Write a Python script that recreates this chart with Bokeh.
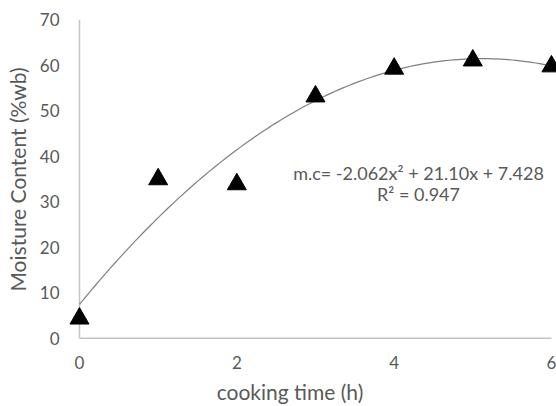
from bokeh.plotting import figure
from bokeh.models import Range1d, Label, FixedTicker
from bokeh.embed import file_html
from bokeh.resources import INLINE
import numpy as np

# data
cooking_time = [0, 1, 2, 3, 4, 5, 6]
moisture = [4.3, 34.9, 33.8, 53.1, 59.2, 61.0, 59.7]
# polynomial trendline coefficients shown on the chart (a*x^2 + b*x + c)
trend_coef = [-2.062, 21.10, 7.428]
x_ticks = [0, 2, 4, 6]
y_ticks = [0, 10, 20, 30, 40, 50, 60, 70]
eq_text = "m.c= -2.062x\u00b2 + 21.10x + 7.428"
r2_text = "R\u00b2 = 0.947"
x_title = "cooking time (h)"
y_title = "Moisture Content (%wb)"

FONT = "Lato"
GRAY_TXT = "#595959"

p = figure(width=556, height=406, output_backend="svg", toolbar_location=None,
           x_range=Range1d(-0.1653, 6.064), y_range=Range1d(-0.3, 70),
           min_border_left=66, min_border_right=0, min_border_top=19, min_border_bottom=67)
p.outline_line_color = None
p.xgrid.visible = False
p.ygrid.visible = False
p.background_fill_color = "white"
p.border_fill_color = "white"

# axes styling
for ax in (p.xaxis[0], p.yaxis[0]):
    ax.axis_line_color = None
    ax.major_tick_line_color = None
    ax.minor_tick_line_color = None
    ax.major_tick_out = 0
    ax.major_tick_in = 0
    ax.minor_tick_out = 0
    ax.minor_tick_in = 0
    ax.major_label_text_font = FONT
    ax.major_label_text_font_size = "17px"
    ax.major_label_text_color = GRAY_TXT
    ax.axis_label_text_font = FONT
    ax.axis_label_text_font_size = "21px"
    ax.axis_label_text_color = GRAY_TXT
    ax.axis_label_text_font_style = "normal"

p.xaxis.ticker = FixedTicker(ticks=x_ticks)
p.yaxis.ticker = FixedTicker(ticks=y_ticks)
p.xaxis.major_label_standoff = 16
p.yaxis.major_label_standoff = 7

p.yaxis.axis_label = y_title
p.yaxis.axis_label_standoff = 7
# trailing no-break spaces shift the centred title left, as in the reference
p.xaxis.axis_label = x_title + "\u00a0" * 8
p.xaxis.axis_label_standoff = 7

# axis lines drawn at data zero
p.segment(x0=[0], y0=[0], x1=[0], y1=[y_ticks[-1]], line_color="#c4c4c4", line_width=1.5)
p.segment(x0=[0], y0=[0], x1=[x_ticks[-1]], y1=[0], line_color="#c4c4c4", line_width=1.5)

# trendline
xs = np.linspace(cooking_time[0], cooking_time[-1], 121)
ys = np.polyval(trend_coef, xs)
p.line(xs, ys, line_color="#7f7f7f", line_width=1.2)

# points
p.scatter(cooking_time, moisture, marker="triangle", size=19,
          fill_color="black", line_color="black")

# equation text (screen units relative to the frame's bottom-left)
p.add_layout(Label(x=352, y=167, x_units="screen", y_units="screen", text=eq_text,
                   text_font=FONT, text_font_size="18px", text_color=GRAY_TXT,
                   text_align="center", text_baseline="middle"))
p.add_layout(Label(x=352, y=146, x_units="screen", y_units="screen", text=r2_text,
                   text_font=FONT, text_font_size="18px", text_color=GRAY_TXT,
                   text_align="center", text_baseline="middle"))

open("out.html", "w").write(file_html(p, INLINE))
